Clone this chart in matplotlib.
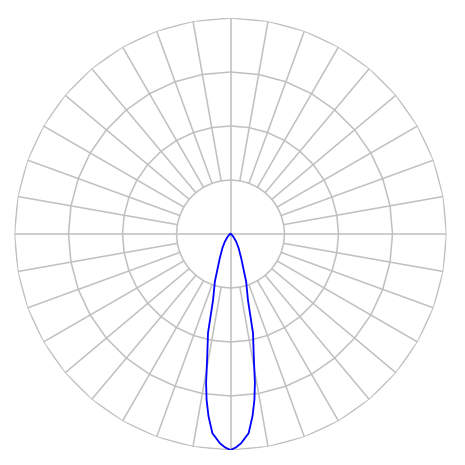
import numpy as np
import matplotlib
matplotlib.use("Agg")
import matplotlib.pyplot as plt

# Luminous intensity distribution (relative to max) vs gamma angle (deg from nadir)
gamma_deg = [0, 1.5, 2.9, 5.2, 6.9, 8.2, 9.3, 10.6, 12.8, 14.8, 18.2, 23.8, 30, 36.5, 45, 60, 75, 90]
intensity = [1.0, 0.988, 0.970, 0.926, 0.849, 0.776, 0.699, 0.588, 0.470, 0.316, 0.232, 0.123,
             0.075, 0.044, 0.020, 0.006, 0.0, 0.0]

ring_levels = [0.25, 0.5, 0.75, 1.0]
spoke_step_deg = 10

fig = plt.figure(figsize=(4.65, 4.65), dpi=100)
ax = fig.add_axes([0.0312, 0.0323, 0.929, 0.929], projection="polar")
ax.set_theta_zero_location("S")
ax.set_theta_direction(1)
ax.set_ylim(0, 1.0)
ax.grid(False)
ax.set_xticks([])
ax.set_yticks([])
ax.spines["polar"].set_visible(False)

gcol = "#c0c0c0"
glw = 1.1
poly_t = np.deg2rad(np.arange(0, 361, spoke_step_deg))
for r in ring_levels:
    ax.plot(poly_t, np.full_like(poly_t, r), color=gcol, lw=glw, zorder=1)
for a in range(0, 360, spoke_step_deg):
    t = np.deg2rad(a)
    r0 = 0.0 if a % 90 == 0 else ring_levels[0]
    ax.plot([t, t], [r0, ring_levels[-1]], color=gcol, lw=glw, zorder=1)

g = np.deg2rad(np.array(gamma_deg))
I = np.array(intensity)
theta = np.concatenate([-g[::-1], g[1:]])
rr = np.concatenate([I[::-1], I[1:]])
ax.plot(theta, rr, color="#0000ff", lw=1.3, zorder=3)

fig.savefig("out.png", dpi=100, facecolor="white")
